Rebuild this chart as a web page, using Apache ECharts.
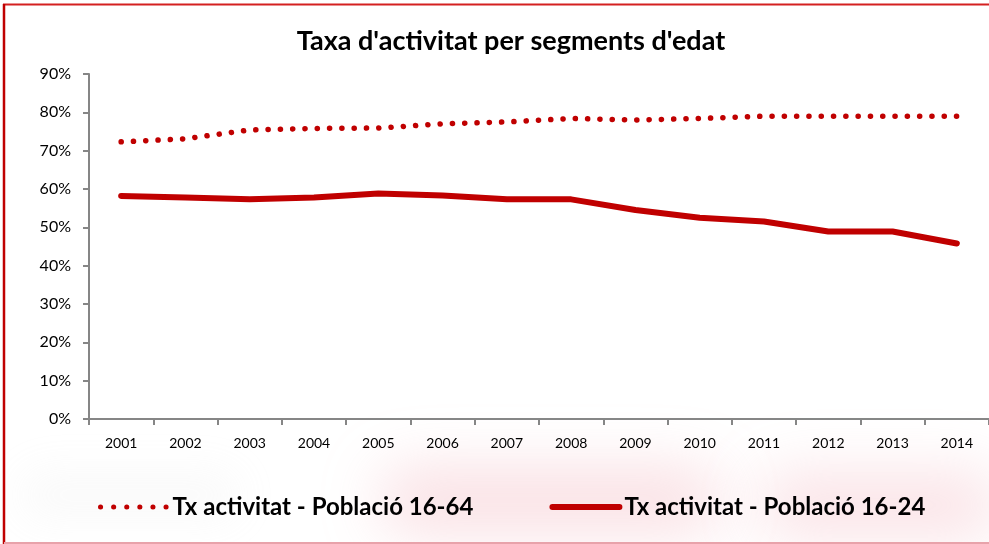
<!DOCTYPE html>
<html>
<head>
<meta charset="utf-8">
<script src="https://cdn.jsdelivr.net/npm/echarts@6/dist/echarts.min.js"></script>
<style>
html,body{margin:0;padding:0;background:#fff;}
#c{width:989px;height:544px;}
</style>
</head>
<body>
<div id="c"></div>
<script>
const titleText = "Taxa d'activitat per segments d'edat";
const years = ['2001','2002','2003','2004','2005','2006','2007','2008','2009','2010','2011','2012','2013','2014'];
const seriesNames = ['Tx activitat - Població 16-64', 'Tx activitat - Població 16-24'];
const pob1664 = [72.3, 73.1, 75.4, 75.8, 75.9, 77.0, 77.5, 78.4, 78.0, 78.4, 79.0, 79.0, 79.0, 79.0];
const pob1624 = [58.2, 57.8, 57.3, 57.8, 58.8, 58.3, 57.3, 57.3, 54.5, 52.5, 51.5, 48.9, 48.9, 45.8];
const yMin = 0, yMax = 90, yStep = 10;

const RED = '#C00000';
const chart = echarts.init(document.getElementById('c'), null, {renderer: 'canvas'});
const font = 'Lato, "Open Sans", sans-serif';

function blob(x, y, w, h, color, blur) {
  return {
    type: 'rect', z: -10, silent: true,
    shape: {x: x, y: y + 2000, width: w, height: h, r: Math.min(w, h) / 2},
    style: {fill: '#fff', shadowBlur: blur, shadowColor: color, shadowOffsetX: 0, shadowOffsetY: -2000}
  };
}

chart.setOption({
  backgroundColor: '#ffffff',
  animation: false,
  title: {
    text: titleText,
    left: 506,
    textAlign: 'center',
    top: 23,
    textStyle: {fontFamily: font, fontWeight: 'bold', fontSize: 27, color: '#000'}
  },
  graphic: [
    blob(380, 470, 340, 60, 'rgba(240,170,180,0.40)', 60),
    blob(760, 475, 240, 60, 'rgba(240,170,180,0.36)', 60),
    blob(20, 470, 220, 50, 'rgba(210,210,210,0.12)', 40),
    {type: 'line', silent: true, shape: {x1: 3, y1: 4.5, x2: 989, y2: 4.5}, style: {stroke: '#D42020', lineWidth: 2}},
    {type: 'line', silent: true, shape: {x1: 4, y1: 4, x2: 4, y2: 544}, style: {stroke: RED, lineWidth: 2.5}},
    {type: 'line', silent: true, shape: {x1: 4, y1: 543, x2: 989, y2: 543}, style: {stroke: '#E8A2AA', lineWidth: 2}}
  ],
  legend: {
    left: 93,
    top: 490,
    itemWidth: 67,
    itemHeight: 14,
    itemGap: 76,
    textStyle: {fontFamily: font, fontWeight: 'bold', fontSize: 24, color: '#000'},
    data: [
      {name: seriesNames[0], itemStyle: {opacity: 0}, lineStyle: {color: RED, width: 5, type: [0.1, 13], cap: 'round'}},
      {name: seriesNames[1], itemStyle: {opacity: 0}, lineStyle: {color: RED, width: 6, type: 'solid', cap: 'round'}}
    ]
  },
  grid: {left: 89, right: -14, top: 74, bottom: 125, containLabel: false},
  xAxis: {
    type: 'category',
    data: years,
    boundaryGap: true,
    axisLine: {show: true, lineStyle: {color: '#868686', width: 2}},
    axisTick: {show: true, interval: 0, length: 6, lineStyle: {color: '#868686', width: 2}},
    axisLabel: {interval: 0, margin: 17, fontFamily: font, fontSize: 14, color: '#000'},
    splitLine: {show: false}
  },
  yAxis: {
    type: 'value',
    min: yMin, max: yMax, interval: yStep,
    axisLine: {show: true, lineStyle: {color: '#868686', width: 2}},
    axisTick: {show: true, length: 6, lineStyle: {color: '#868686', width: 2}},
    axisLabel: {formatter: '{value}%', margin: 18, fontFamily: font, fontSize: 16, color: '#000'},
    splitLine: {show: false}
  },
  series: [
    {
      name: seriesNames[0], type: 'line', data: pob1664, symbol: 'none',
      lineStyle: {color: RED, width: 5.5, type: [0.1, 12.2], cap: 'round'},
      itemStyle: {color: RED}
    },
    {
      name: seriesNames[1], type: 'line', data: pob1624, symbol: 'none',
      lineStyle: {color: RED, width: 6, type: 'solid', cap: 'round', join: 'round'},
      itemStyle: {color: RED}
    }
  ]
});
</script>
</body>
</html>
